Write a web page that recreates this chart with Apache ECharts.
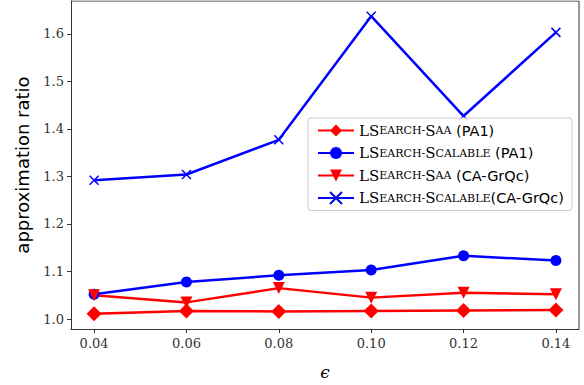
<!DOCTYPE html>
<html>
<head>
<meta charset="utf-8">
<script src="https://cdn.jsdelivr.net/npm/echarts@6/dist/echarts.min.js"></script>
<style>
  html, body { margin: 0; padding: 0; background: #fff; }
  #chart { width: 584px; height: 385px; }
</style>
</head>
<body>
<div id="chart"></div>
<script>
// values
const epsilons = [ 0.04, 0.06, 0.08, 0.10, 0.12, 0.14 ];
const xTicks = [ 0.04, 0.06, 0.08, 0.10, 0.12, 0.14 ];
const yTicks = [ 1.0, 1.1, 1.2, 1.3, 1.4, 1.5, 1.6 ];

const saaPA1 = [ 1.011, 1.017, 1.016, 1.017, 1.018, 1.019 ];
const scalablePA1 = [ 1.052, 1.078, 1.092, 1.103, 1.133, 1.123 ];
const saaGrQc = [ 1.050, 1.035, 1.065, 1.045, 1.055, 1.052 ];
const scalableGrQc = [ 1.292, 1.304, 1.377, 1.637, 1.427, 1.603 ];

const seriesNames = [
	'LSearch-Saa (PA1)',
	'LSearch-Scalable (PA1)',
	'LSearch-Saa (CA-GrQc)',
	'LSearch-Scalable(CA-GrQc)'
];

const RED = '#ff0000';
const BLUE = '#0000ff';
const SERIF = '"DejaVu Serif", serif';
const SANS = '"DejaVu Sans", sans-serif';
const CROSS = 'path://M0,0L10,10M10,0L0,10';

const pairs = ( ys ) => epsilons.map( ( x, i ) => [ x, ys[ i ] ] );

// small caps: capitals big, lowercase shrunk to capitals
const smallCaps = ( word ) => {
	let out = '';
	let run = '';
	let runBig = null;
	for ( const ch of word ) {
		const big = ch >= 'A' && ch <= 'Z';
		if ( runBig !== null && big !== runBig ) {
			out += `{${ runBig ? 'b' : 's' }|${ run }}`;
			run = '';
		}
		run += big ? ch : ch.toUpperCase();
		runBig = big;
	}
	if ( run ) {
		out += `{${ runBig ? 'b' : 's' }|${ run }}`;
	}
	return out;
};

const legendText = ( name ) => {
	const k = name.indexOf( '(' );
	const head = name.slice( 0, k );
	const word = head.trim();
	const space = head.length > word.length ? ' ' : '';
	return smallCaps( word ) + `{t|${ space }${ name.slice( k ) }}`;
};

const line = ( name, data, color, symbol, size, extra ) => Object.assign( {
	name,
	type: 'line',
	data: pairs( data ),
	symbol,
	symbolSize: size,
	showAllSymbol: true,
	lineStyle: { color, width: 2.5 },
	itemStyle: { color },
	z: 3
}, extra || {} );

const chart = echarts.init( document.getElementById( 'chart' ), null, { renderer: 'svg' } );

chart.setOption( {
	animation: false,
	grid: { left: 71, right: 5, top: 1, bottom: 54 },
	xAxis: {
		type: 'value',
		min: 0.035,
		max: 0.145,
		name: 'ϵ',
		nameLocation: 'middle',
		nameGap: 34,
		nameTextStyle: { fontFamily: SERIF, fontStyle: 'italic', fontSize: 17, color: '#000' },
		axisLine: { onZero: false, lineStyle: { color: '#333', width: 1 } },
		axisTick: { show: true, length: 4, inside: false, customValues: xTicks, lineStyle: { color: '#333' } },
		axisLabel: {
			customValues: xTicks,
			margin: 8,
			fontFamily: SERIF,
			fontSize: 13,
			color: '#333',
			formatter: ( v ) => v.toFixed( 2 )
		},
		splitLine: { show: false }
	},
	yAxis: {
		type: 'value',
		min: 0.979,
		max: 1.669,
		name: 'approximation ratio',
		nameLocation: 'middle',
		nameGap: 40,
		nameTextStyle: { fontFamily: SANS, fontSize: 18, color: '#000' },
		axisLine: { show: true, lineStyle: { color: '#333', width: 1 } },
		axisTick: { show: true, length: 4, inside: false, customValues: yTicks, lineStyle: { color: '#333' } },
		axisLabel: {
			customValues: yTicks,
			margin: 7,
			fontFamily: SERIF,
			fontSize: 13,
			color: '#333',
			formatter: ( v ) => v.toFixed( 1 )
		},
		splitLine: { show: false }
	},
	legend: {
		left: 308,
		top: 118,
		orient: 'vertical',
		itemWidth: 36,
		itemHeight: 15,
		itemGap: 7.5,
		padding: [ 5, 8, 5, 9 ],
		borderColor: '#cccccc',
		borderWidth: 1,
		borderRadius: 3,
		backgroundColor: 'rgba(255,255,255,0.85)',
		data: seriesNames,
		formatter: legendText,
		textStyle: {
			color: '#000',
			rich: {
				b: { fontFamily: SERIF, fontSize: 15, color: '#000' },
				s: { fontFamily: SERIF, fontSize: 11, color: '#000' },
				t: { fontFamily: SANS, fontSize: 14.5, color: '#000' }
			}
		}
	},
	series: [
		line( seriesNames[ 0 ], saaPA1, RED, 'diamond', 15 ),
		line( seriesNames[ 1 ], scalablePA1, BLUE, 'circle', 11 ),
		line( seriesNames[ 2 ], saaGrQc, RED, 'triangle', 12, { symbolRotate: 180 } ),
		line( seriesNames[ 3 ], scalableGrQc, BLUE, CROSS, 9, {
			itemStyle: { color: BLUE, borderColor: BLUE, borderWidth: 1.5 }
		} ),
		// top and right spines of the box
		{
			type: 'line',
			data: [ [ 0.035, 1.669 ], [ 0.145, 1.669 ], [ 0.145, 0.979 ] ],
			symbol: 'none',
			silent: true,
			lineStyle: { color: '#333', width: 1 },
			z: 1
		}
	]
} );
</script>
</body>
</html>
